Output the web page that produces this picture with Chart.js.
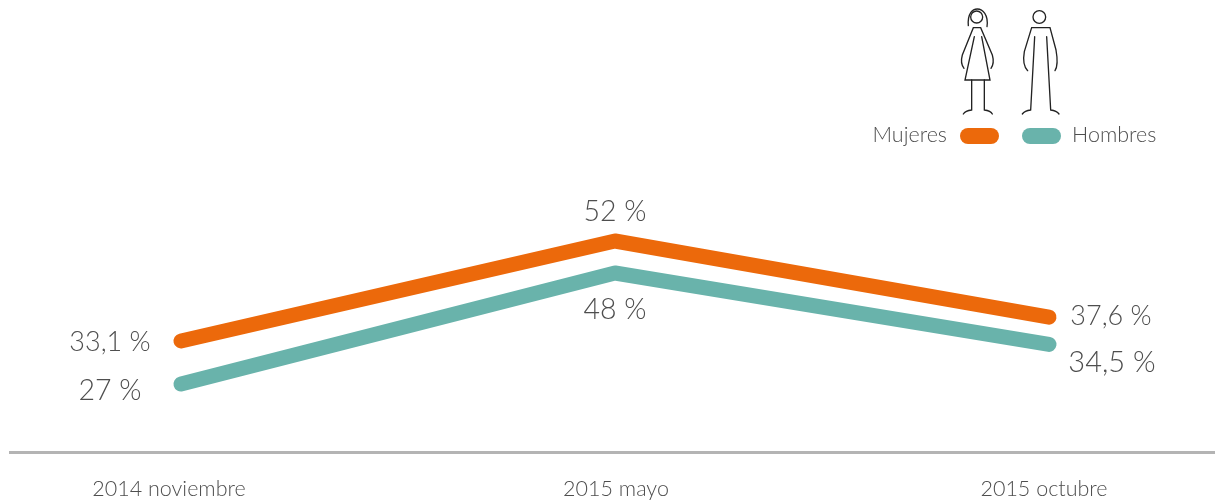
<!DOCTYPE html>
<html><head><meta charset="utf-8">
<style>html,body{margin:0;padding:0;background:#fff}canvas{display:block}</style>
<script src="https://cdn.jsdelivr.net/npm/chart.js@4"></script>
</head><body><canvas id="c" width="1215" height="503"></canvas>
<script>
const categories = ['2014 noviembre', '2015 mayo', '2015 octubre'];
const mujeres = [33.1, 52, 37.6];
const hombres = [27, 48, 34.5];
const mujeresLabels = ['33,1 %', '52 %', '37,6 %'];
const hombresLabels = ['27 %', '48 %', '34,5 %'];

const ORANGE = '#EC690B', TEAL = '#69B3AB', TEXT = '#4e4e4e';
const FONT = 'Lato, "Open Sans", sans-serif';

const labelOffsets = {
  0: [[-71, 1], [0, -29], [62, -1]],
  1: [[-71, 7], [0, 37], [63, 18]]
};
const labelSizes = {
  0: [27, 28.5, 27],
  1: [28.5, 28.5, 29]
};
const catNudge = [-12, 1, -5];

function figures(ctx) {
  ctx.save();
  ctx.translate(860, 0); ctx.scale(1 / 3, 1 / 3);
  ctx.strokeStyle = '#222222'; ctx.lineWidth = 4; ctx.lineCap = 'round';
  const p = (f) => { ctx.beginPath(); f(); ctx.stroke(); };
  // woman
  p(() => ctx.arc(350, 51, 18, 0, Math.PI * 2));
  p(() => { ctx.moveTo(325, 77); ctx.bezierCurveTo(322, 40, 338, 27, 352, 27); ctx.bezierCurveTo(368, 27, 386, 45, 381, 80); });
  p(() => { ctx.moveTo(312, 205); ctx.quadraticCurveTo(300, 190, 307, 165); ctx.lineTo(340, 83); ctx.lineTo(362, 83); ctx.lineTo(397, 165); ctx.quadraticCurveTo(404, 190, 393, 205); });
  p(() => { ctx.moveTo(343, 110); ctx.lineTo(315, 240); ctx.lineTo(390, 240); ctx.lineTo(365, 110); });
  p(() => { ctx.moveTo(335, 240); ctx.lineTo(335, 330); ctx.quadraticCurveTo(316, 332, 310, 342); });
  p(() => { ctx.moveTo(373, 240); ctx.lineTo(373, 330); ctx.quadraticCurveTo(392, 332, 397, 342); });
  // man
  p(() => ctx.arc(538, 51, 19, 0, Math.PI * 2));
  p(() => { ctx.moveTo(503, 212); ctx.quadraticCurveTo(486, 195, 493, 155); ctx.lineTo(515, 83); ctx.lineTo(570, 83); ctx.lineTo(588, 150); ctx.quadraticCurveTo(596, 195, 585, 212); });
  p(() => { ctx.moveTo(524, 110); ctx.lineTo(512, 330); ctx.quadraticCurveTo(494, 332, 487, 342); });
  p(() => { ctx.moveTo(560, 110); ctx.lineTo(572, 330); ctx.quadraticCurveTo(590, 332, 597, 342); });
  ctx.restore();
}

function pill(ctx, x, y, w, h, color) {
  ctx.fillStyle = color; ctx.beginPath(); ctx.roundRect(x, y, w, h, h / 2); ctx.fill();
}

const decor = {
  id: 'decor',
  afterDraw(chart) {
    const ctx = chart.ctx, xs = chart.scales.x;
    ctx.save();
    ctx.fillStyle = TEXT; ctx.textBaseline = 'middle'; ctx.textAlign = 'center';
    chart.data.datasets.forEach((ds, i) => {
      const meta = chart.getDatasetMeta(i);
      const texts = i === 0 ? mujeresLabels : hombresLabels;
      meta.data.forEach((pt, j) => {
        const o = labelOffsets[i][j];
        ctx.font = '300 ' + labelSizes[i][j] + 'px ' + FONT;
        ctx.fillText(texts[j], pt.x + o[0], pt.y + o[1]);
      });
    });
    ctx.font = '300 21.5px ' + FONT;
    categories.forEach((c, i) => ctx.fillText(c, xs.getPixelForValue(i) + catNudge[i], 489));
    ctx.textAlign = 'right';
    ctx.fillText(chart.data.datasets[0].label, 947, 135);
    ctx.textAlign = 'left';
    ctx.fillText(chart.data.datasets[1].label, 1072, 135);
    pill(ctx, 960, 128, 39, 16, ORANGE);
    pill(ctx, 1022, 128, 39, 16, TEAL);
    figures(ctx);
    ctx.restore();
  }
};

new Chart(document.getElementById('c'), {
  type: 'line',
  data: {
    datasets: [
      { label: 'Mujeres', data: mujeres.map((v, i) => ({ x: i, y: v })), yAxisID: 'y', borderColor: ORANGE },
      { label: 'Hombres', data: hombres.map((v, i) => ({ x: i, y: v })), yAxisID: 'y1', borderColor: TEAL }
    ].map(d => Object.assign(d, { borderWidth: 15, borderCapStyle: 'round', borderJoinStyle: 'round', pointRadius: 0, tension: 0, fill: false, clip: false }))
  },
  options: {
    responsive: false, animation: false, events: [],
    layout: { padding: { left: 10, right: 0, top: 0, bottom: 0 } },
    plugins: { legend: { display: false }, tooltip: { enabled: false }, title: { display: false } },
    scales: {
      x: {
        type: 'linear', min: -0.394, max: 2.3825,
        afterFit(s) { s.height = 51; },
        grid: { display: false, drawTicks: false },
        border: { display: true, color: '#b4b4b4', width: 3 },
        ticks: { display: false }
      },
      y: { display: false, min: 12.11, max: 97.56 },
      y1: { display: false, min: 14.16, max: 99.6 }
    }
  },
  plugins: [decor]
});
</script></body></html>
